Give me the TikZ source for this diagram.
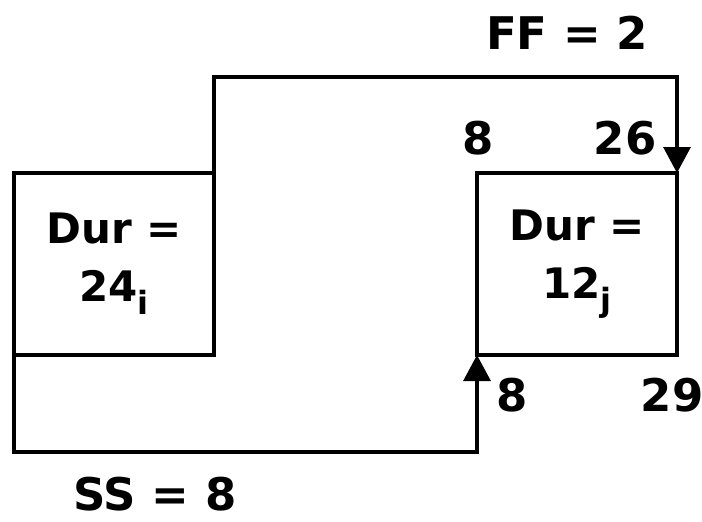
\documentclass[tikz,border=0pt]{standalone}
\usepackage{fontspec}
\setmainfont{DejaVu Sans}
\usetikzlibrary{arrows.meta}
\begin{document}
\begin{tikzpicture}[x=1pt,y=-1pt,
  lbl/.style={font=\fontsize{45}{50}\selectfont\bfseries, inner sep=0pt},
  actbox/.style={draw, line width=3.2pt, minimum width=200pt, minimum height=182pt, inner sep=0pt, outer sep=0pt, align=center, font=\fontsize{42}{58}\selectfont\bfseries},
  link/.style={line width=3.2pt, line cap=rect, -{Triangle[length=26pt,width=27pt]}}]
\useasboundingbox (0,0) rectangle (702,522);
\newcommand{\sbs}[1]{\raisebox{-13pt}{\fontsize{32}{32}\selectfont #1}}
\node[actbox] (A) at (114,264) {Dur =\\24\sbs{i}};
\node[actbox] (B) at (577,264) {Dur =\\12\sbs{j}};
\coordinate (ff1) at (A.north east |- 0,77);
\coordinate (ff2) at (B.north east |- 0,77);
\coordinate (ss1) at (A.south west |- 0,452);
\coordinate (ss2) at (B.south west |- 0,452);
\draw[link] (A.north east) -- (ff1) -- (ff2) -- (B.north east);
\draw[link] (A.south west) -- (ss1) -- (ss2) -- (B.south west);
\node[lbl] (ff) at (567,33) {FF = 2};
\node[lbl] (ss) at (155,494) {SS = 8};
\node[lbl] (es) at (478,138) {8};
\node[lbl] (ef) at (625,138) {26};
\node[lbl] (ls) at (512,395) {8};
\node[lbl] (lf) at (672,395) {29};
\end{tikzpicture}
\end{document}
